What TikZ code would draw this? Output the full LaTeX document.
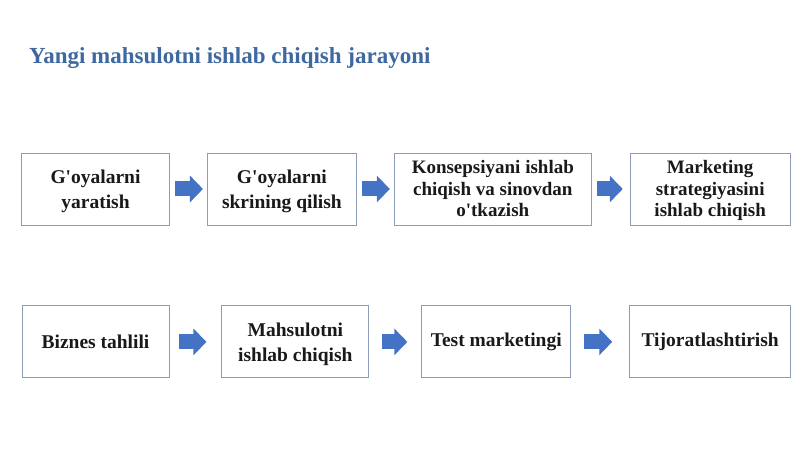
\documentclass[tikz,border=0pt]{standalone}
\usepackage{fontspec}
\setmainfont{Liberation Serif}
\usetikzlibrary{positioning,arrows.meta}

\definecolor{titleblue}{RGB}{62,104,160}
\definecolor{boxline}{RGB}{140,156,182}
\definecolor{arrowblue}{RGB}{68,114,196}

\tikzset{
	stage/.style={draw=boxline, line width=0.9pt, fill=white, minimum height=72pt,
		align=center, inner sep=2pt, text=black!90,
		font=\fontsize{19.5}{25}\selectfont\bfseries},
	twoline/.style={text depth=-5pt},
	threeline/.style={text depth=1pt, font=\fontsize{19}{21.5}\selectfont\bfseries},
	flow/.style={draw=arrowblue, line width=15pt,
		-{Triangle[width=26pt,length=13pt]}}
}

\begin{document}
\begin{tikzpicture}
	\useasboundingbox (0,0) rectangle (800pt,-449pt);
	\node[anchor=base west, inner sep=0pt, text=titleblue, font=\fontsize{23}{26}\selectfont\bfseries] (title) at (29pt,-64pt) {Yangi mahsulotni ishlab chiqish jarayoni};
	% first row
	\node[stage, twoline, minimum width=148pt] (b1) at (95.5pt,-189pt) {G\textquotesingle oyalarni\\yaratish};
	\node[stage, twoline, minimum width=149pt, right=37pt of b1] (b2) {G\textquotesingle oyalarni\\skrining qilish};
	\node[stage, threeline, minimum width=197pt, right=37pt of b2] (b3) {Konsepsiyani ishlab\\chiqish va sinovdan\\o\textquotesingle tkazish};
	\node[stage, threeline, minimum width=160pt, right=38pt of b3] (b4) {Marketing\\strategiyasini\\ishlab chiqish};
	% second row
	\node[stage, minimum width=147pt, below=80pt of b1] (b5) {Biznes tahlili};
	\node[stage, twoline, minimum width=147pt, right=52pt of b5] (b6) {Mahsulotni\\ishlab chiqish};
	\node[stage, minimum width=149pt, right=52pt of b6] (b7) {Test marketingi};
	\node[stage, minimum width=161pt, right=58pt of b7] (b8) {Tijoratlashtirish};

	\draw[flow, shorten <=5pt, shorten >=4pt] (b1) -- (b2);
	\draw[flow, shorten <=5pt, shorten >=4pt] (b2) -- (b3);
	\draw[flow, shorten <=5pt, shorten >=7pt] (b3) -- (b4);
	\draw[flow, shorten <=10pt, shorten >=15pt] (b5) -- (b6);
	\draw[flow, shorten <=13pt, shorten >=14pt] (b6) -- (b7);
	\draw[flow, shorten <=13pt, shorten >=17pt] (b7) -- (b8);
\end{tikzpicture}
\end{document}
